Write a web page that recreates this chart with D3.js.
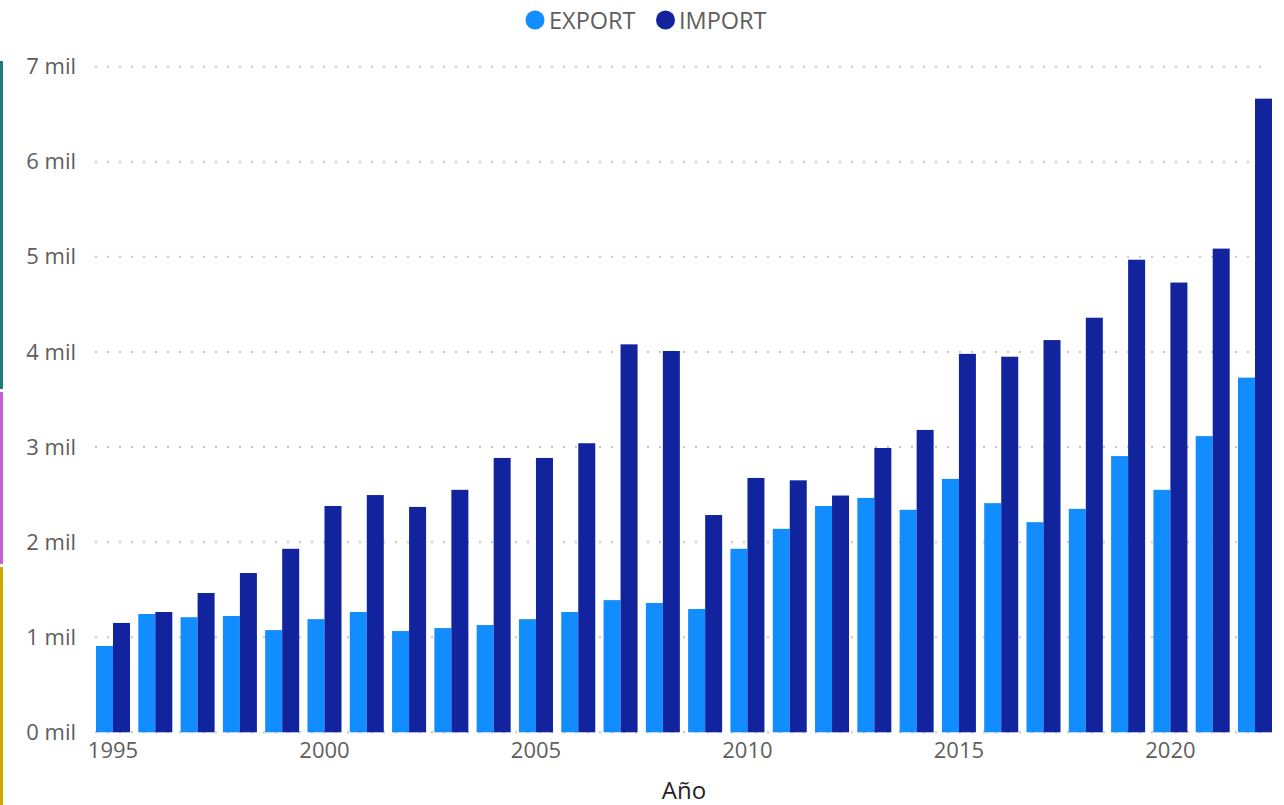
<!DOCTYPE html>
<html>
<head>
<meta charset="utf-8">
<script src="https://cdn.jsdelivr.net/npm/d3@7"></script>
<style>
  html, body { margin: 0; padding: 0; background: #ffffff; }
  svg { display: block; font-family: "Segoe UI", "Open Sans", sans-serif; }
</style>
</head>
<body>
<svg id="chart"></svg>
<script>
// chart data
const years = [1995, 1996, 1997, 1998, 1999, 2000, 2001, 2002, 2003, 2004, 2005, 2006, 2007, 2008,
  2009, 2010, 2011, 2012, 2013, 2014, 2015, 2016, 2017, 2018, 2019, 2020, 2021, 2022];
const exportValues = [908, 1244, 1210, 1223, 1075, 1190, 1265, 1065, 1096, 1128, 1190, 1265, 1390, 1360,
  1297, 1930, 2140, 2380, 2465, 2340, 2665, 2410, 2210, 2350, 2905, 2550, 3115, 3730];
const importValues = [1150, 1265, 1465, 1675, 1930, 2380, 2495, 2370, 2550, 2885, 2885, 3040, 4080, 4010,
  2285, 2675, 2650, 2490, 2990, 3180, 3980, 3950, 4125, 4360, 4970, 4730, 5087, 6664];
const series = ["EXPORT", "IMPORT"];
const yTicks = [0, 1000, 2000, 3000, 4000, 5000, 6000, 7000];
const xTickYears = [1995, 2000, 2005, 2010, 2015, 2020];

// chart variables
const width = 1284;
const height = 805;
const plotBottom = 732.3;
const plotTop = 66.7;
const plotLeft = 96;
const plotRight = 1272;
const textColor = "#605E5C";
const color = d3.scaleOrdinal().domain(series).range(["#118DFF", "#12239E"]);

const rows = years.map((y, i) => ({ year: y, EXPORT: exportValues[i], IMPORT: importValues[i] }));

const svg = d3.select("#chart").attr("width", width).attr("height", height);

// page accent strips on the left edge
const strips = [
  { y0: 61, y1: 389, fill: "#1F7A80" },
  { y0: 392, y1: 564, fill: "#C660D2" },
  { y0: 567, y1: 805, fill: "#CCA800" },
];
svg
  .selectAll("rect.strip")
  .data(strips)
  .enter()
  .append("rect")
  .attr("class", "strip")
  .attr("x", 0)
  .attr("y", (d) => d.y0)
  .attr("width", 3)
  .attr("height", (d) => d.y1 - d.y0)
  .attr("fill", (d) => d.fill);

// scales
const xScale = d3
  .scaleBand()
  .domain(years)
  .range([plotLeft, plotRight])
  .paddingInner(0.196)
  .paddingOuter(0);

const xSeries = d3
  .scaleBand()
  .domain(series)
  .range([0, xScale.bandwidth()])
  .padding(0);

const yScale = d3.scaleLinear().domain([0, 7000]).range([plotBottom, plotTop]);

// dotted gridlines
svg
  .append("g")
  .attr("class", "grid")
  .selectAll("line")
  .data(yTicks)
  .enter()
  .append("line")
  .attr("x1", plotLeft - 1)
  .attr("x2", 1268)
  .attr("y1", (d) => yScale(d))
  .attr("y2", (d) => yScale(d))
  .attr("stroke", "#C8C8C8")
  .attr("stroke-width", 2)
  .attr("stroke-dasharray", "2,10");

// y-axis
const yAxis = svg
  .append("g")
  .attr("id", "y-axis")
  .attr("transform", `translate(76, 0)`)
  .call(
    d3
      .axisLeft(yScale)
      .tickValues(yTicks)
      .tickSize(0)
      .tickPadding(0)
      .tickFormat((d) => `${d / 1000} mil`)
  );
yAxis.select(".domain").remove();
yAxis
  .selectAll("text")
  .style("font-family", "'Segoe UI', 'Open Sans', sans-serif")
  .style("font-size", "22px")
  .style("fill", textColor);

// bars
const groups = svg
  .append("g")
  .selectAll("g")
  .data(rows)
  .enter()
  .append("g")
  .attr("transform", (d) => `translate(${xScale(d.year)}, 0)`);

groups
  .selectAll("rect")
  .data((d) => series.map((s) => ({ key: s, value: d[s] })))
  .enter()
  .append("rect")
  .attr("x", (d) => xSeries(d.key))
  .attr("y", (d) => yScale(d.value))
  .attr("width", xSeries.bandwidth())
  .attr("height", (d) => plotBottom - yScale(d.value))
  .attr("fill", (d) => color(d.key));

// x-axis
const xAxis = svg
  .append("g")
  .attr("id", "x-axis")
  .attr("transform", `translate(0, ${plotBottom})`)
  .call(d3.axisBottom(xScale).tickValues(xTickYears).tickSize(0).tickPadding(10));
xAxis.select(".domain").remove();
xAxis
  .selectAll("text")
  .style("font-family", "'Segoe UI', 'Open Sans', sans-serif")
  .style("font-size", "22px")
  .style("fill", textColor);

// x-label
svg
  .append("text")
  .attr("x", 684)
  .attr("y", 799)
  .style("text-anchor", "middle")
  .style("font-size", "24px")
  .style("font-weight", "500")
  .style("fill", "#252423")
  .text("Año");

// legend
const legendItems = [
  { key: "EXPORT", cx: 535, tx: 549 },
  { key: "IMPORT", cx: 665.5, tx: 679 },
];
const legend = svg.append("g").attr("id", "legend");
legend
  .selectAll("circle")
  .data(legendItems)
  .enter()
  .append("circle")
  .attr("cx", (d) => d.cx)
  .attr("cy", 20)
  .attr("r", 9.5)
  .attr("fill", (d) => color(d.key));
legend
  .selectAll("text")
  .data(legendItems)
  .enter()
  .append("text")
  .attr("x", (d) => d.tx)
  .attr("y", 28.5)
  .style("font-size", "23.5px")
  .style("fill", textColor)
  .text((d) => d.key);
</script>
</body>
</html>
